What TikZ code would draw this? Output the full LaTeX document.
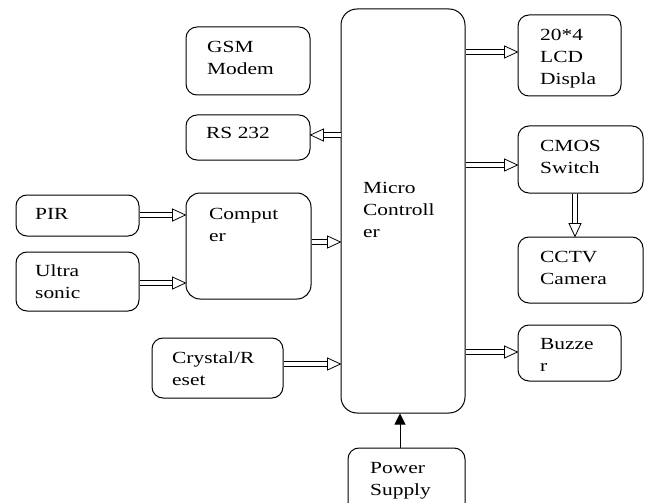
\documentclass[tikz,border=0pt]{standalone}
\usepackage{fontspec}
\setmainfont{Liberation Serif}[FakeStretch=1.26]
\usetikzlibrary{calc,arrows.meta}
\tikzset{
  box/.style={draw, line width=1pt, rounded corners=11pt, inner sep=0pt},
  lbl/.style={anchor=north west, inner sep=0pt, align=left, font=\fontsize{17}{22}\selectfont},
  shaft/.style={draw, double, double distance=3.6pt, line width=0.8pt},
  headtri/.style={draw, line width=0.8pt, fill=white, line join=miter},
}
\newcommand\dblarr[2]{%
  \coordinate (s) at (#1);
  \coordinate (e) at (#2);
  \coordinate (hb) at ($(e)!13pt!(s)$);
  \draw[shaft] (s) -- (hb);
  \draw[headtri] (e) -- ($(hb)!6pt!90:(e)$) -- ($(hb)!6pt!-90:(e)$) -- cycle;
}
\begin{document}
\begin{tikzpicture}[x=1pt,y=-1pt]
\useasboundingbox (0,0) rectangle (646,503);
\clip (0,0) rectangle (646,503);
\fill[white] (0,0) rectangle (646,503);
% boxes
\node[box, minimum width=124pt, minimum height=68pt] (gsm) at (248,61) {};
\node[box, minimum width=124pt, minimum height=45pt] (rs) at (248,137.5) {};
\node[box, minimum width=123pt, minimum height=41pt] (pir) at (77.5,215.5) {};
\node[box, minimum width=123pt, minimum height=59pt] (ultra) at (77.5,281.5) {};
\node[box, minimum width=125pt, minimum height=106pt, rounded corners=14pt] (comp) at (248.5,246) {};
\node[box, minimum width=124pt, minimum height=404pt, rounded corners=16pt] (mc) at (403,211) {};
\node[box, minimum width=103pt, minimum height=81pt] (lcd) at (569.5,55.5) {};
\node[box, minimum width=125pt, minimum height=67pt] (cmos) at (580.5,159.5) {};
\node[box, minimum width=125pt, minimum height=66pt] (cctv) at (580.5,270) {};
\node[box, minimum width=103pt, minimum height=56pt] (buzz) at (569.5,353) {};
\node[box, minimum width=131pt, minimum height=60pt] (crys) at (217.5,368) {};
\node[box, minimum width=117pt, minimum height=72pt] (pow) at (406.5,484) {};
% labels (first baseline minus 15.4)
\node[lbl] (gsmt) at (207,36.6) {\strut GSM\\Modem};
\node[lbl] (rst) at (206,122.6) {\strut RS 232};
\node[lbl] (pirt) at (35,203.6) {\strut PIR};
\node[lbl] (ultrat) at (35,260.6) {\strut Ultra\\sonic};
\node[lbl] (compt) at (209,203.6) {\strut Comput\\er};
\node[lbl] (mct) at (363,177.6) {\strut Micro\\Controll\\er};
\node[lbl] (lcdt) at (540,24.6) {\strut 20*4\\LCD\\Displa};
\node[lbl] (cmost) at (540,135.6) {\strut CMOS\\Switch};
\node[lbl] (cctvt) at (540,246.6) {\strut CCTV\\Camera};
\node[lbl] (buzzt) at (540,333.6) {\strut Buzze\\r};
\node[lbl] (cryst) at (172,347.6) {\strut Crystal/R\\eset};
\node[lbl] (powt) at (370,457.6) {\strut Power\\Supply};
% connectors
\dblarr{pir.east |- 0,215}{comp.west |- 0,215}
\dblarr{ultra.east |- 0,283}{comp.west |- 0,283}
\dblarr{comp.east |- 0,242}{mc.west |- 0,242}
\dblarr{crys.east |- 0,364}{mc.west |- 0,364}
\dblarr{mc.west |- 0,135}{rs.east |- 0,135}
\dblarr{mc.east |- 0,52}{lcd.west |- 0,52}
\dblarr{mc.east |- 0,165}{cmos.west |- 0,165}
\dblarr{mc.east |- 0,352}{buzz.west |- 0,352}
\dblarr{cmos.south -| 575,0}{cctv.north -| 575,0}
\draw[line width=1pt, -{Triangle[length=11pt,width=11pt]}] (pow.north -| 400,0) -- (mc.south -| 400,0);
\end{tikzpicture}
\end{document}
